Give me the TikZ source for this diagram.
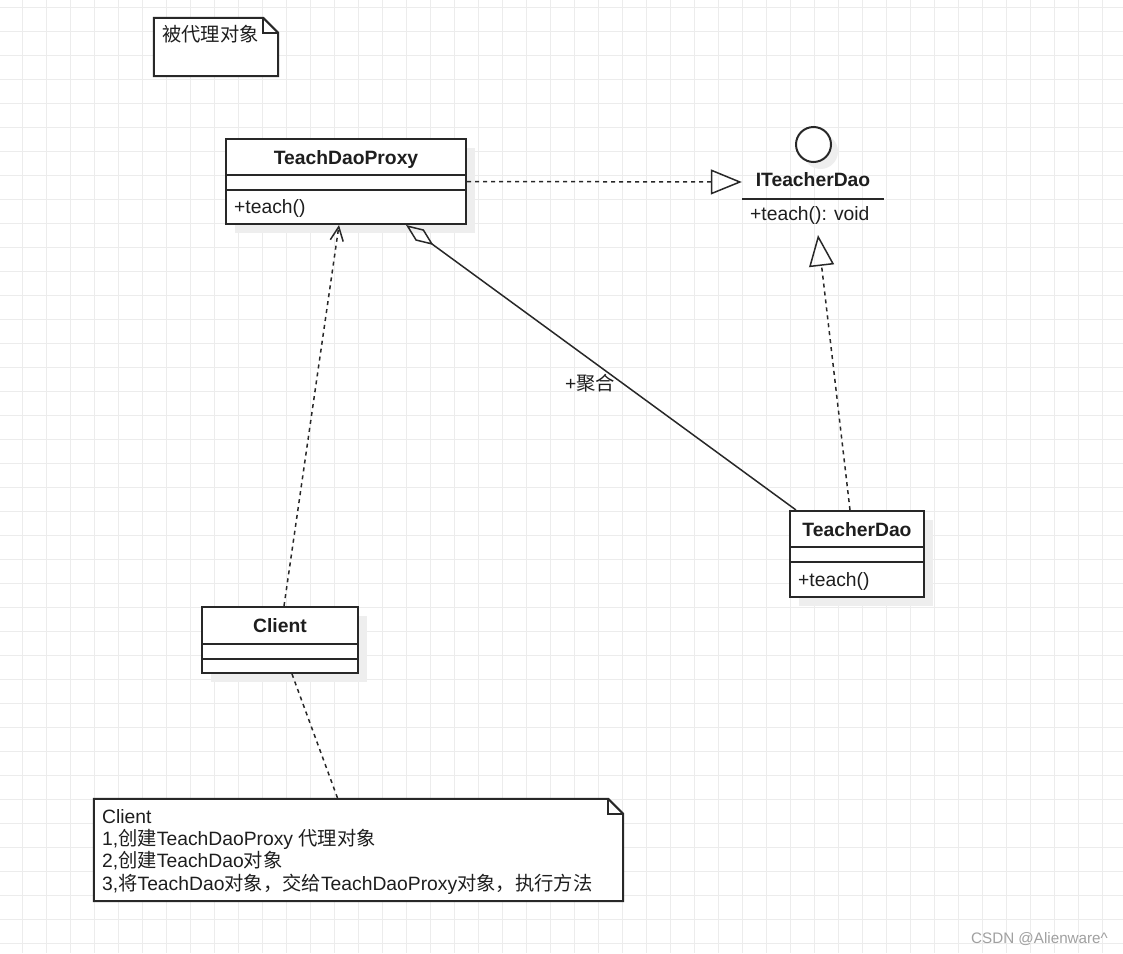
\documentclass[tikz,border=0pt]{standalone}
\usepackage{fontspec}
\setmainfont{Liberation Sans}
\newfontfamily\cjk{Noto Sans CJK SC}
\usetikzlibrary{arrows.meta,shadows}
\definecolor{gridc}{RGB}{236,236,236}
\definecolor{shadowc}{RGB}{238,238,238}
\definecolor{linec}{RGB}{40,40,40}
\definecolor{wmc}{RGB}{160,160,160}
\definecolor{txtc}{RGB}{30,30,30}
\begin{document}
\begin{tikzpicture}[x=1pt,y=-1pt,
  lbl/.style={font=\fontsize{19.3}{23}\selectfont, inner sep=0, text=txtc},
  blbl/.style={font=\fontsize{19.3}{23}\selectfont\bfseries, inner sep=0, text=txtc},
  classbox/.style={draw=linec, line width=2pt, fill=white, inner sep=0,
    drop shadow={shadow xshift=9pt, shadow yshift=-9pt, fill=shadowc, opacity=1}},
  notebox/.style={draw=linec, line width=2pt, fill=white, line join=miter},
  sepline/.style={draw=linec, line width=2pt},
  conn/.style={draw=linec, line width=1.5pt},
  dconn/.style={conn, dash pattern=on 4pt off 4pt},
  realize/.style={dconn, -{Triangle[open, length=31pt, width=25pt]}},
  depend/.style={dconn, -{Straight Barb[length=14pt, width=13pt]}},
  aggr/.style={conn, {Diamond[open, length=34pt, width=14pt]}-}
]
\useasboundingbox (0,0) rectangle (1123,953);
\fill[white] (0,0) rectangle (1123,953);
% grid
\foreach \x in {22.3,46.3,...,1124} \draw[gridc, line width=1pt] (\x,0) -- (\x,953);
\foreach \y in {7,31,...,955} \draw[gridc, line width=1pt] (0,\y) -- (1123,\y);

% top note
\node[inner sep=0, minimum width=124pt, minimum height=58pt] (note1) at (216,47) {};
\draw[notebox] (note1.north west) -- ([xshift=-15pt]note1.north east) -- ([yshift=-15pt]note1.north east) -- (note1.south east) -- (note1.south west) -- cycle;
\draw[notebox, fill=none] ([xshift=-15pt]note1.north east) -- ([xshift=-15pt,yshift=-15pt]note1.north east) -- ([yshift=-15pt]note1.north east);
\node[lbl, anchor=base west] (note1txt) at (162,41) {\cjk 被代理对象};

% TeachDaoProxy
\node[classbox, minimum width=240pt, minimum height=85pt] (proxy) at (346,181.5) {};
\draw[sepline] ([yshift=-37pt]proxy.north west) -- ([yshift=-37pt]proxy.north east);
\draw[sepline] ([yshift=-52pt]proxy.north west) -- ([yshift=-52pt]proxy.north east);
\node[blbl, anchor=base] (proxyname) at (346,164) {TeachDaoProxy};
\node[lbl, anchor=base west] (proxyop) at (234,213) {+teach()};

% ITeacherDao interface
\node[circle, draw=linec, line width=2pt, fill=white, minimum size=35pt, inner sep=0,
  drop shadow={shadow xshift=7pt, shadow yshift=-7pt, fill=shadowc, opacity=1}] (lolli) at (813.5,144.5) {};
\node[inner sep=0, minimum width=142pt, minimum height=34pt] (iface) at (813,182) {};
\draw[sepline] (iface.south west) -- (iface.south east);
\node[blbl, anchor=base] (ifacename) at (813,186) {ITeacherDao};
\node[lbl, anchor=base west] (ifaceop) at (750,220) {+teach(): void};
\coordinate (ifaceBottom) at (818,235);

% TeacherDao
\node[classbox, minimum width=134pt, minimum height=86pt] (tdao) at (857,554) {};
\draw[sepline] ([yshift=-37pt]tdao.north west) -- ([yshift=-37pt]tdao.north east);
\draw[sepline] ([yshift=-52pt]tdao.north west) -- ([yshift=-52pt]tdao.north east);
\node[blbl, anchor=base] (tdaoname) at (857,536) {TeacherDao};
\node[lbl, anchor=base west] (tdaoop) at (798,586) {+teach()};

% Client
\node[classbox, minimum width=156pt, minimum height=66pt] (client) at (280,640) {};
\draw[sepline] ([yshift=-38pt]client.north west) -- ([yshift=-38pt]client.north east);
\draw[sepline] ([yshift=-53pt]client.north west) -- ([yshift=-53pt]client.north east);
\node[blbl, anchor=base] (clientname) at (280,632) {Client};

% bottom note
\node[inner sep=0, minimum width=529pt, minimum height=102pt] (note2) at (358.5,850) {};
\draw[notebox] (note2.north west) -- ([xshift=-15pt]note2.north east) -- ([yshift=-15pt]note2.north east) -- (note2.south east) -- (note2.south west) -- cycle;
\draw[notebox, fill=none] ([xshift=-15pt]note2.north east) -- ([xshift=-15pt,yshift=-15pt]note2.north east) -- ([yshift=-15pt]note2.north east);
\node[lbl, anchor=base west] (n2l0) at (102,823) {Client};
\node[lbl, anchor=base west] (n2l1) at (102,845) {1,{\cjk 创建}TeachDaoProxy {\cjk 代理对象}};
\node[lbl, anchor=base west] (n2l2) at (102,867.5) {2,{\cjk 创建}TeachDao{\cjk 对象}};
\node[lbl, anchor=base west] (n2l3) at (102,890) {3,{\cjk 将}TeachDao{\cjk 对象，交给}TeachDaoProxy{\cjk 对象，执行方法}};

% connectors
\draw[realize] (proxy.east) -- (iface.west);
\draw[realize] ([xshift=61pt]tdao.north west) -- (ifaceBottom);
\draw[aggr] ([xshift=181pt]proxy.south west) -- ([xshift=7pt]tdao.north west);
\node[lbl, anchor=base west] (aggrlbl) at (565,390) {+{\cjk 聚合}};
\draw[depend] ([xshift=83pt]client.north west) -- ([xshift=114pt]proxy.south west);
\draw[dconn] ([xshift=91pt]client.south west) -- ([xshift=244pt]note2.north west);

% watermark
\node[font=\fontsize{15.2}{18}\selectfont, text=wmc, inner sep=0, anchor=base west] (wm) at (971,943) {CSDN @Alienware\textasciicircum};
\end{tikzpicture}
\end{document}
